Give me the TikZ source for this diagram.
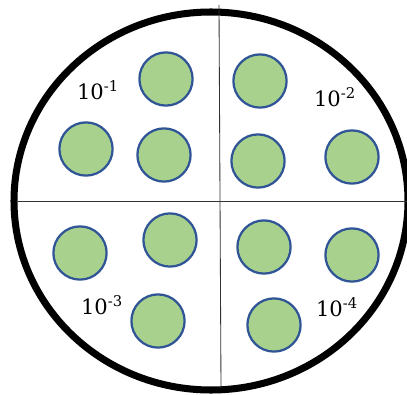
\documentclass[tikz,border=0pt]{standalone}
\usepackage{fontspec}
\setmainfont{DejaVu Serif}
\usepackage{xcolor}
\usetikzlibrary{positioning, calc}

\definecolor{colonyfill}{HTML}{A9D18E}
\definecolor{colonyline}{HTML}{2F5597}

\tikzset{
    colony/.style={circle, draw=colonyline, fill=colonyfill, line width=1.6pt, minimum size=1.33cm, inner sep=0pt},
    dilution/.style={font=\fontsize{15}{17}\selectfont, inner sep=0pt},
    divider/.style={draw=black!80, line width=0.6pt}
}

\begin{document}
\begin{tikzpicture}[x=0.025cm, y=-0.025cm]
        \useasboundingbox (0,0) rectangle (407,394);

        % ==========================================
        % Plate
        % ==========================================
        \draw[line width=5pt] (211,201) ellipse [x radius=197, y radius=189];

        % Quadrant dividers
        \coordinate (top) at (219,5);
        \coordinate (bottom) at (221,388);
        \coordinate (left) at (18,201.5);
        \coordinate (right) at (407,201.5);
        \draw[divider] (top) -- (bottom);
        \draw[divider] (left) -- (right);

        % ==========================================
        % Colonies
        % ==========================================
        \foreach \name/\x/\y in {a1/166/79, a2/86/149, a3/164/155,
                                 b1/260/81, b2/258/161, b3/352/157,
                                 c1/80/253, c2/170/240, c3/158/321,
                                 d1/264/247, d2/352/255, d3/274/325} {
            \node[colony] (\name) at (\x,\y) {};
        }

        % ==========================================
        % Dilution labels
        % ==========================================
        \node[dilution] (la) at (98,90) {10\textsuperscript{-1}};
        \node[dilution] (lb) at (335,97) {10\textsuperscript{-2}};
        \node[dilution] (lc) at (102,305) {10\textsuperscript{-3}};
        \node[dilution] (ld) at (337,307) {10\textsuperscript{-4}};

    \end{tikzpicture}
\end{document}
